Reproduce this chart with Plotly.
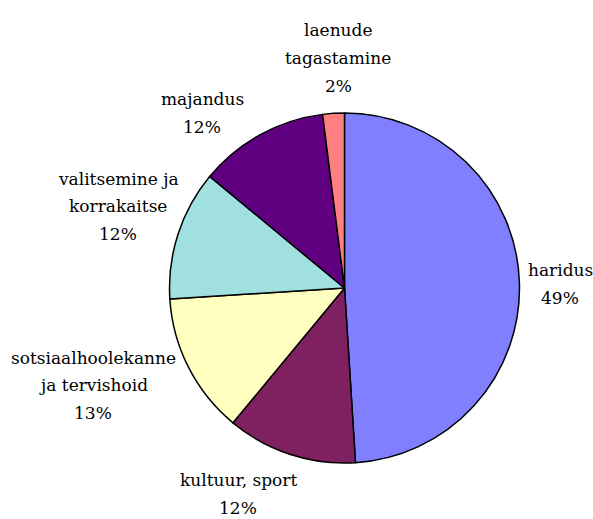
import plotly.graph_objects as go

# data
categories = ["haridus", "kultuur, sport", "sotsiaalhoolekanne ja tervishoid",
              "valitsemine ja korrakaitse", "majandus", "laenude tagastamine"]
label_lines = [["haridus"], ["kultuur, sport"], ["sotsiaalhoolekanne", "ja tervishoid"],
               ["valitsemine ja", "korrakaitse"], ["majandus"], ["laenude", "tagastamine"]]
shares = [49, 12, 13, 12, 12, 2]

colors = ["#8080FF", "#7F2060", "#FFFFC0", "#A0E0E0", "#600080", "#FF8080"]

# label centres in pixels (x, y from top-left), layout only
label_pos = [(560, 284), (238, 494), (93, 385), (118, 206), (202, 113), (338, 58)]
LINE_H = 27.5

W, H = 593, 519
FONT = "DejaVu Serif"

fig = go.Figure(go.Pie(
    labels=categories,
    values=shares,
    sort=False,
    direction="clockwise",
    rotation=0,
    marker=dict(colors=colors, line=dict(color="black", width=1.5)),
    textinfo="none",
    hoverinfo="label+percent",
    domain=dict(x=[169 / W, 520 / W], y=[1 - 463 / H, 1 - 113 / H]),
    showlegend=False,
))

total = sum(shares)
for lines, v, (cx, cy) in zip(label_lines, shares, label_pos):
    rows = lines + [f"{round(100 * v / total)}%"]
    n = len(rows)
    for i, row in enumerate(rows):
        y_px = cy + (i - (n - 1) / 2) * LINE_H
        fig.add_annotation(
            text=row,
            x=cx / W, y=1 - y_px / H, xref="paper", yref="paper",
            xanchor="center", yanchor="middle", showarrow=False,
            font=dict(family=FONT, size=17, color="black"),
        )

fig.update_layout(
    width=W, height=H,
    margin=dict(l=0, r=0, t=0, b=0),
    paper_bgcolor="white", plot_bgcolor="white",
    font=dict(family=FONT),
)

fig.write_html("out.html", config={"displayModeBar": False},
               post_script="document.body.style.margin='0';document.body.style.overflow='hidden';")
